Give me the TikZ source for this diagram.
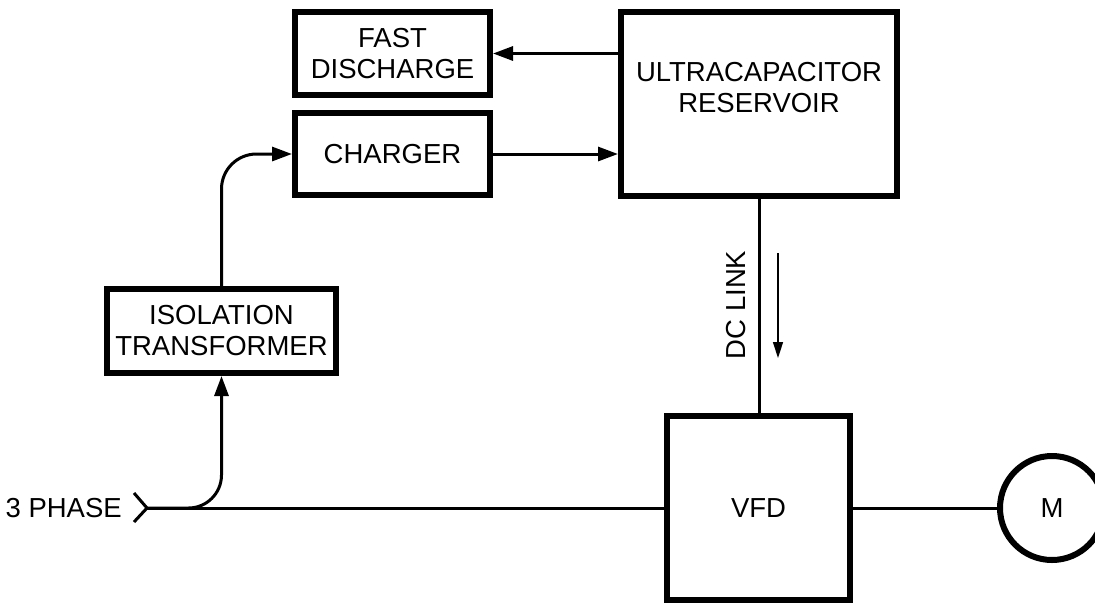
\documentclass[tikz,border=0pt]{standalone}
\usepackage{fontspec}
\setmainfont{Liberation Sans}
\usetikzlibrary{arrows.meta}
\begin{document}
\begin{tikzpicture}[x=1pt,y=-1pt,
  blk/.style={draw,line width=6pt,rectangle,align=center,inner sep=0pt,
    font=\fontsize{27.5}{31}\selectfont},
  wire/.style={line width=3pt},
  arr/.style={wire,-{Triangle[length=20pt,width=14pt]}},
  txt/.style={font=\fontsize{27.5}{31}\selectfont,align=center,inner sep=0pt}]
\useasboundingbox (0,0) rectangle (1095,603);
% boxes
\node[blk,minimum width=195pt,minimum height=83pt] (fd) at (392.5,53.5) {FAST\\DISCHARGE};
\node[blk,minimum width=195pt,minimum height=82pt] (ch) at (392.5,154) {CHARGER};
\node[blk,minimum width=276pt,minimum height=184pt] (uc) at (759,104) {};
\node[txt] (uct) at (759,88) {ULTRACAPACITOR\\RESERVOIR};
\node[blk,minimum width=229pt,minimum height=84pt] (iso) at (221.5,331) {ISOLATION\\TRANSFORMER};
\node[blk,minimum width=183pt,minimum height=184pt] (vfd) at (758.5,508) {VFD};
\node[draw,circle,line width=6pt,minimum size=104pt,inner sep=0pt,
  font=\fontsize{27.5}{31}\selectfont] (m) at (1052,508) {M};
\node[txt,anchor=east] (ph) at (122,508) {3 PHASE};
\coordinate (in) at (147,508);
\coordinate (c1) at (134,493);
\coordinate (c2) at (134,522);
% chevron
\draw[wire] (c1) -- (in) -- (c2);
% main lines
\draw[wire] (in) -- (vfd.west);
\draw[wire] (vfd.east) -- (m.west);
\draw[arr,rounded corners=33pt] (in) -| (iso.south);
\draw[arr,rounded corners=35pt] (iso.north) |- (ch.west);
\draw[arr] (ch.east) -- (ch.east -| uc.west);
\draw[arr] (fd.east -| uc.west) -- (fd.east);
\draw[wire] (uc.south) -- (uc.south |- vfd.north);
% DC link
\node[txt,rotate=90] (dcl) at (736,305) {DC LINK};
\coordinate (a1) at (778,253);
\coordinate (a2) at (778,358);
\draw[line width=1.5pt,-{Triangle[length=16pt,width=10pt]}] (a1) -- (a2);
\end{tikzpicture}
\end{document}
